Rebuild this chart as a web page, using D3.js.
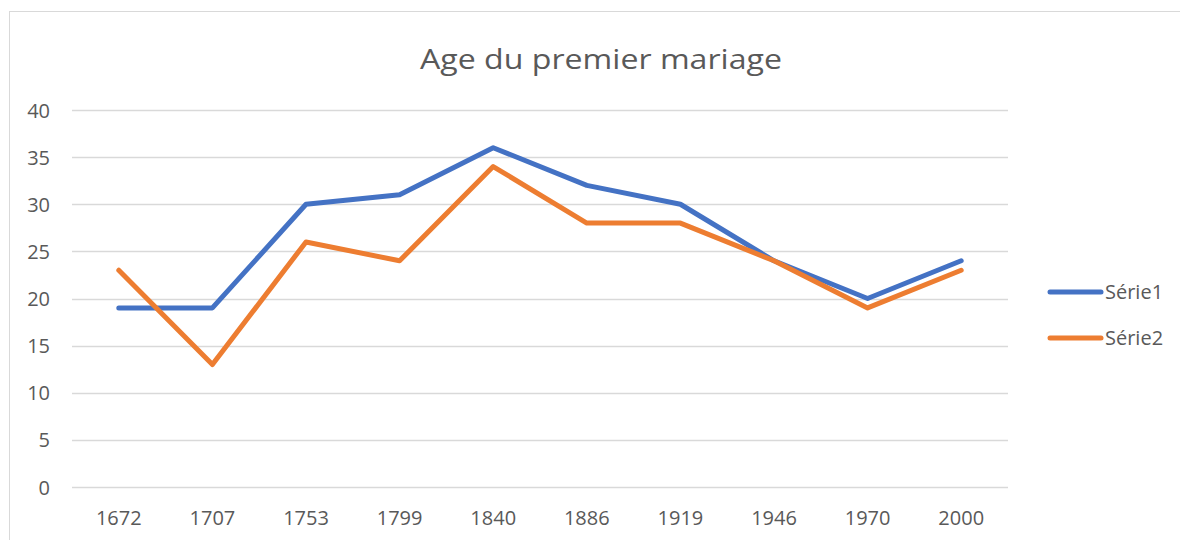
<!DOCTYPE html>
<html><head><meta charset="utf-8">
<script src="https://cdn.jsdelivr.net/npm/d3@7"></script>
<style>body{margin:0;background:#fff}svg{display:block}text{font-family:"Open Sans","Liberation Sans",sans-serif;fill:#595959}</style>
</head><body><svg id="c" width="1180" height="540"></svg>
<script>
const categories = ["1672","1707","1753","1799","1840","1886","1919","1946","1970","2000"];
const serie1 = [19,19,30,31,36,32,30,24,20,24];
const serie2 = [23,13,26,24,34,28,28,24,19,23];
const yTicks = [0,5,10,15,20,25,30,35,40];
const seriesNames = ["Série1","Série2"];
const colors = ["#4472C4","#ED7D31"];
const title = "Age du premier mariage";

const svg = d3.select("#c");
svg.append("rect").attr("x",9.5).attr("y",11.5).attr("width",1180).attr("height",540).attr("fill","#fff").attr("stroke","#d9d9d9").attr("stroke-width",1);

const x = d3.scaleBand().domain(categories).range([72,1008]);
const y = d3.scaleLinear().domain([0,40]).range([487,110]);

const grid = svg.append("g");
grid.selectAll("line").data(yTicks).join("line")
  .attr("x1",72).attr("x2",1008).attr("y1",d=>Math.round(y(d))+0.5).attr("y2",d=>Math.round(y(d))+0.5)
  .attr("stroke","#d9d9d9").attr("stroke-width",1.3);

const yAxis = svg.append("g").attr("transform","translate(72,0)").call(d3.axisLeft(y).tickValues(yTicks).tickSize(0).tickPadding(22));
yAxis.select(".domain").remove();
yAxis.selectAll("text").style("font-size","20px").attr("fill","#595959").attr("dy","0.35em");

const xAxis = svg.append("g").attr("transform","translate(0,487)").call(d3.axisBottom(x).tickSize(0).tickPadding(24));
xAxis.select(".domain").remove();
xAxis.selectAll("text").style("font-size","20px").attr("fill","#595959");

svg.append("text").attr("x",601).attr("y",69).attr("text-anchor","middle")
  .style("font-size","28px").attr("textLength",362).attr("lengthAdjust","spacingAndGlyphs").text(title);

const line = d3.line().x((d,i)=>x(categories[i])+x.bandwidth()/2).y(d=>y(d));
[serie1,serie2].forEach((s,k)=>{
  svg.append("path").datum(s).attr("d",line).attr("fill","none").attr("stroke",colors[k])
    .attr("stroke-width",5).attr("stroke-linejoin","round").attr("stroke-linecap","round");
});

const leg = svg.append("g");
seriesNames.forEach((n,k)=>{
  const ly = 292 + k*46;
  leg.append("line").attr("x1",1050).attr("x2",1101).attr("y1",ly).attr("y2",ly)
    .attr("stroke",colors[k]).attr("stroke-width",5).attr("stroke-linecap","round");
  leg.append("text").attr("x",1105).attr("y",ly).attr("dy","0.35em").style("font-size","20px").text(n);
});
</script></body></html>
